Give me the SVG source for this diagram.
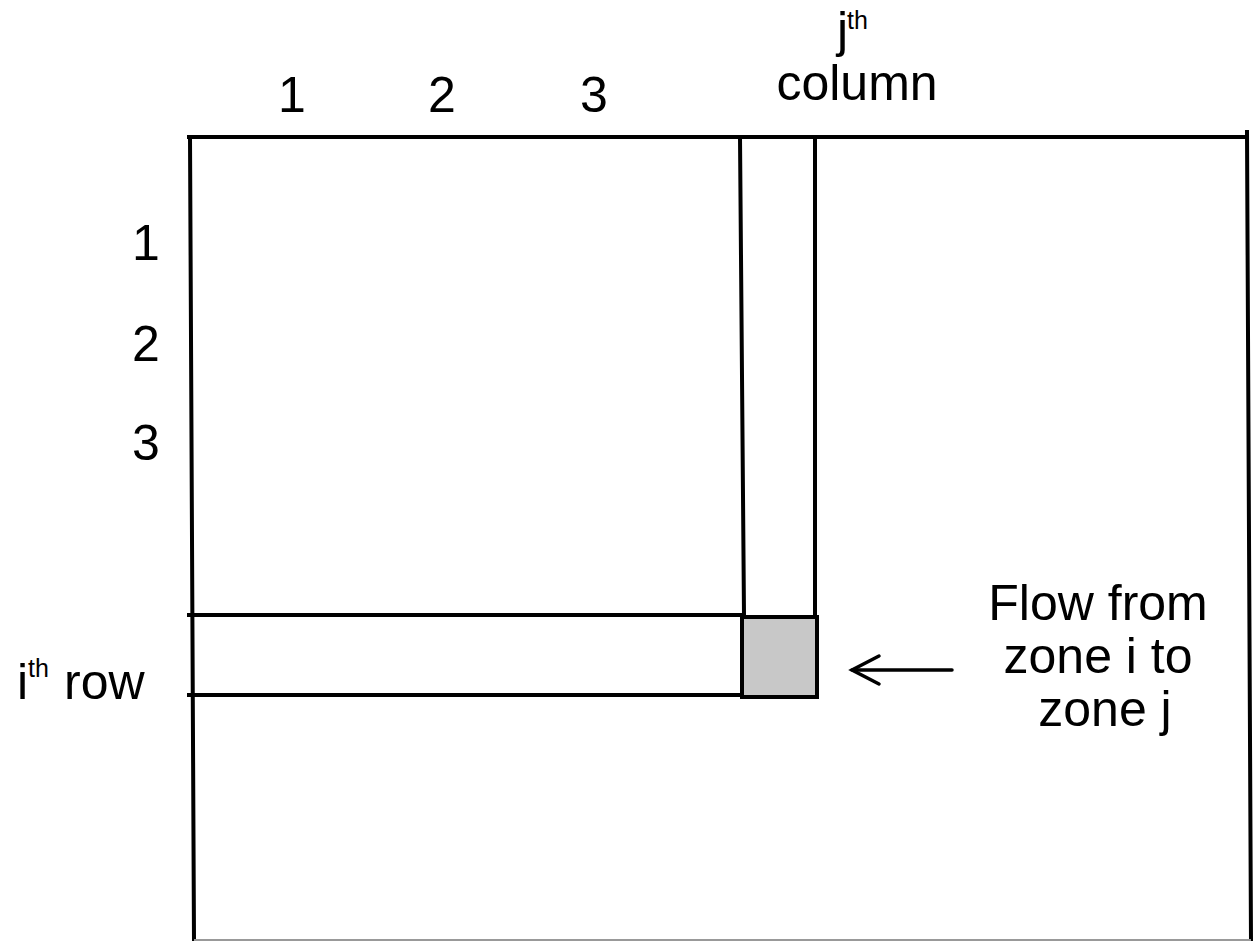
<svg xmlns="http://www.w3.org/2000/svg" width="1255" height="941" viewBox="0 0 1255 941">
  <style>
    .ln { stroke: #000; stroke-width: 4; fill: none; stroke-linecap: square; }
    .lbl { font-family: "Liberation Sans", Arial, sans-serif; font-size: 50px; fill: #000; }
    .sup { font-family: "Liberation Sans", Arial, sans-serif; font-size: 25px; fill: #000; }
    .arr { stroke: #000; stroke-width: 3.5; fill: none; stroke-linecap: round; stroke-linejoin: miter; }
  </style>
  <rect x="0" y="0" width="1255" height="941" fill="#fff"/>

  <!-- matrix frame -->
  <g id="matrix">
    <line class="ln" x1="189" y1="137" x2="1247" y2="137"/>
    <line class="ln" x1="190" y1="137" x2="194" y2="941"/>
    <line class="ln" x1="1247" y1="132" x2="1251" y2="941"/>
    <line x1="194" y1="940" x2="1251" y2="940" stroke="#999" stroke-width="2"/>
  </g>

  <!-- j-th column strip -->
  <g id="column-j">
    <line class="ln" x1="740" y1="137" x2="744" y2="615"/>
    <line class="ln" x1="815" y1="137" x2="815" y2="615"/>
  </g>

  <!-- i-th row strip -->
  <g id="row-i">
    <line class="ln" x1="189" y1="615" x2="742" y2="615"/>
    <line class="ln" x1="189" y1="695" x2="742" y2="695"/>
  </g>

  <!-- cell (i, j) -->
  <g id="cell-ij">
    <rect x="742" y="617" width="75" height="80" fill="#c8c8c8" stroke="#000" stroke-width="4"/>
  </g>

  <!-- column index labels -->
  <g id="col-labels">
    <text class="lbl" x="292" y="112" text-anchor="middle">1</text>
    <text class="lbl" x="442" y="112" text-anchor="middle">2</text>
    <text class="lbl" x="594" y="112" text-anchor="middle">3</text>
  </g>

  <!-- row index labels -->
  <g id="row-labels">
    <text class="lbl" x="146" y="260" text-anchor="middle">1</text>
    <text class="lbl" x="146" y="361" text-anchor="middle">2</text>
    <text class="lbl" x="146" y="460" text-anchor="middle">3</text>
  </g>

  <!-- j-th column label -->
  <g id="label-column">
    <text class="lbl" x="837" y="47">j</text>
    <text class="sup" x="847" y="29">th</text>
    <text class="lbl" x="857" y="100" text-anchor="middle">column</text>
  </g>

  <!-- i-th row label -->
  <g id="label-row">
    <text class="lbl" x="17" y="699">i</text>
    <text class="sup" x="28" y="677">th</text>
    <text class="lbl" x="64" y="699">row</text>
  </g>

  <!-- pointer to the cell -->
  <g id="connectors">
    <line class="arr" x1="952" y1="670" x2="852" y2="670"/>
    <polyline class="arr" points="879,656 852,670 879,684"/>
  </g>

  <!-- annotation -->
  <g id="label-flow">
    <text class="lbl" text-anchor="middle">
      <tspan x="1105" y="620">Flow from</tspan>
      <tspan x="1105" y="673">zone i to</tspan>
      <tspan x="1105" y="726">zone j</tspan>
    </text>
  </g>
</svg>
